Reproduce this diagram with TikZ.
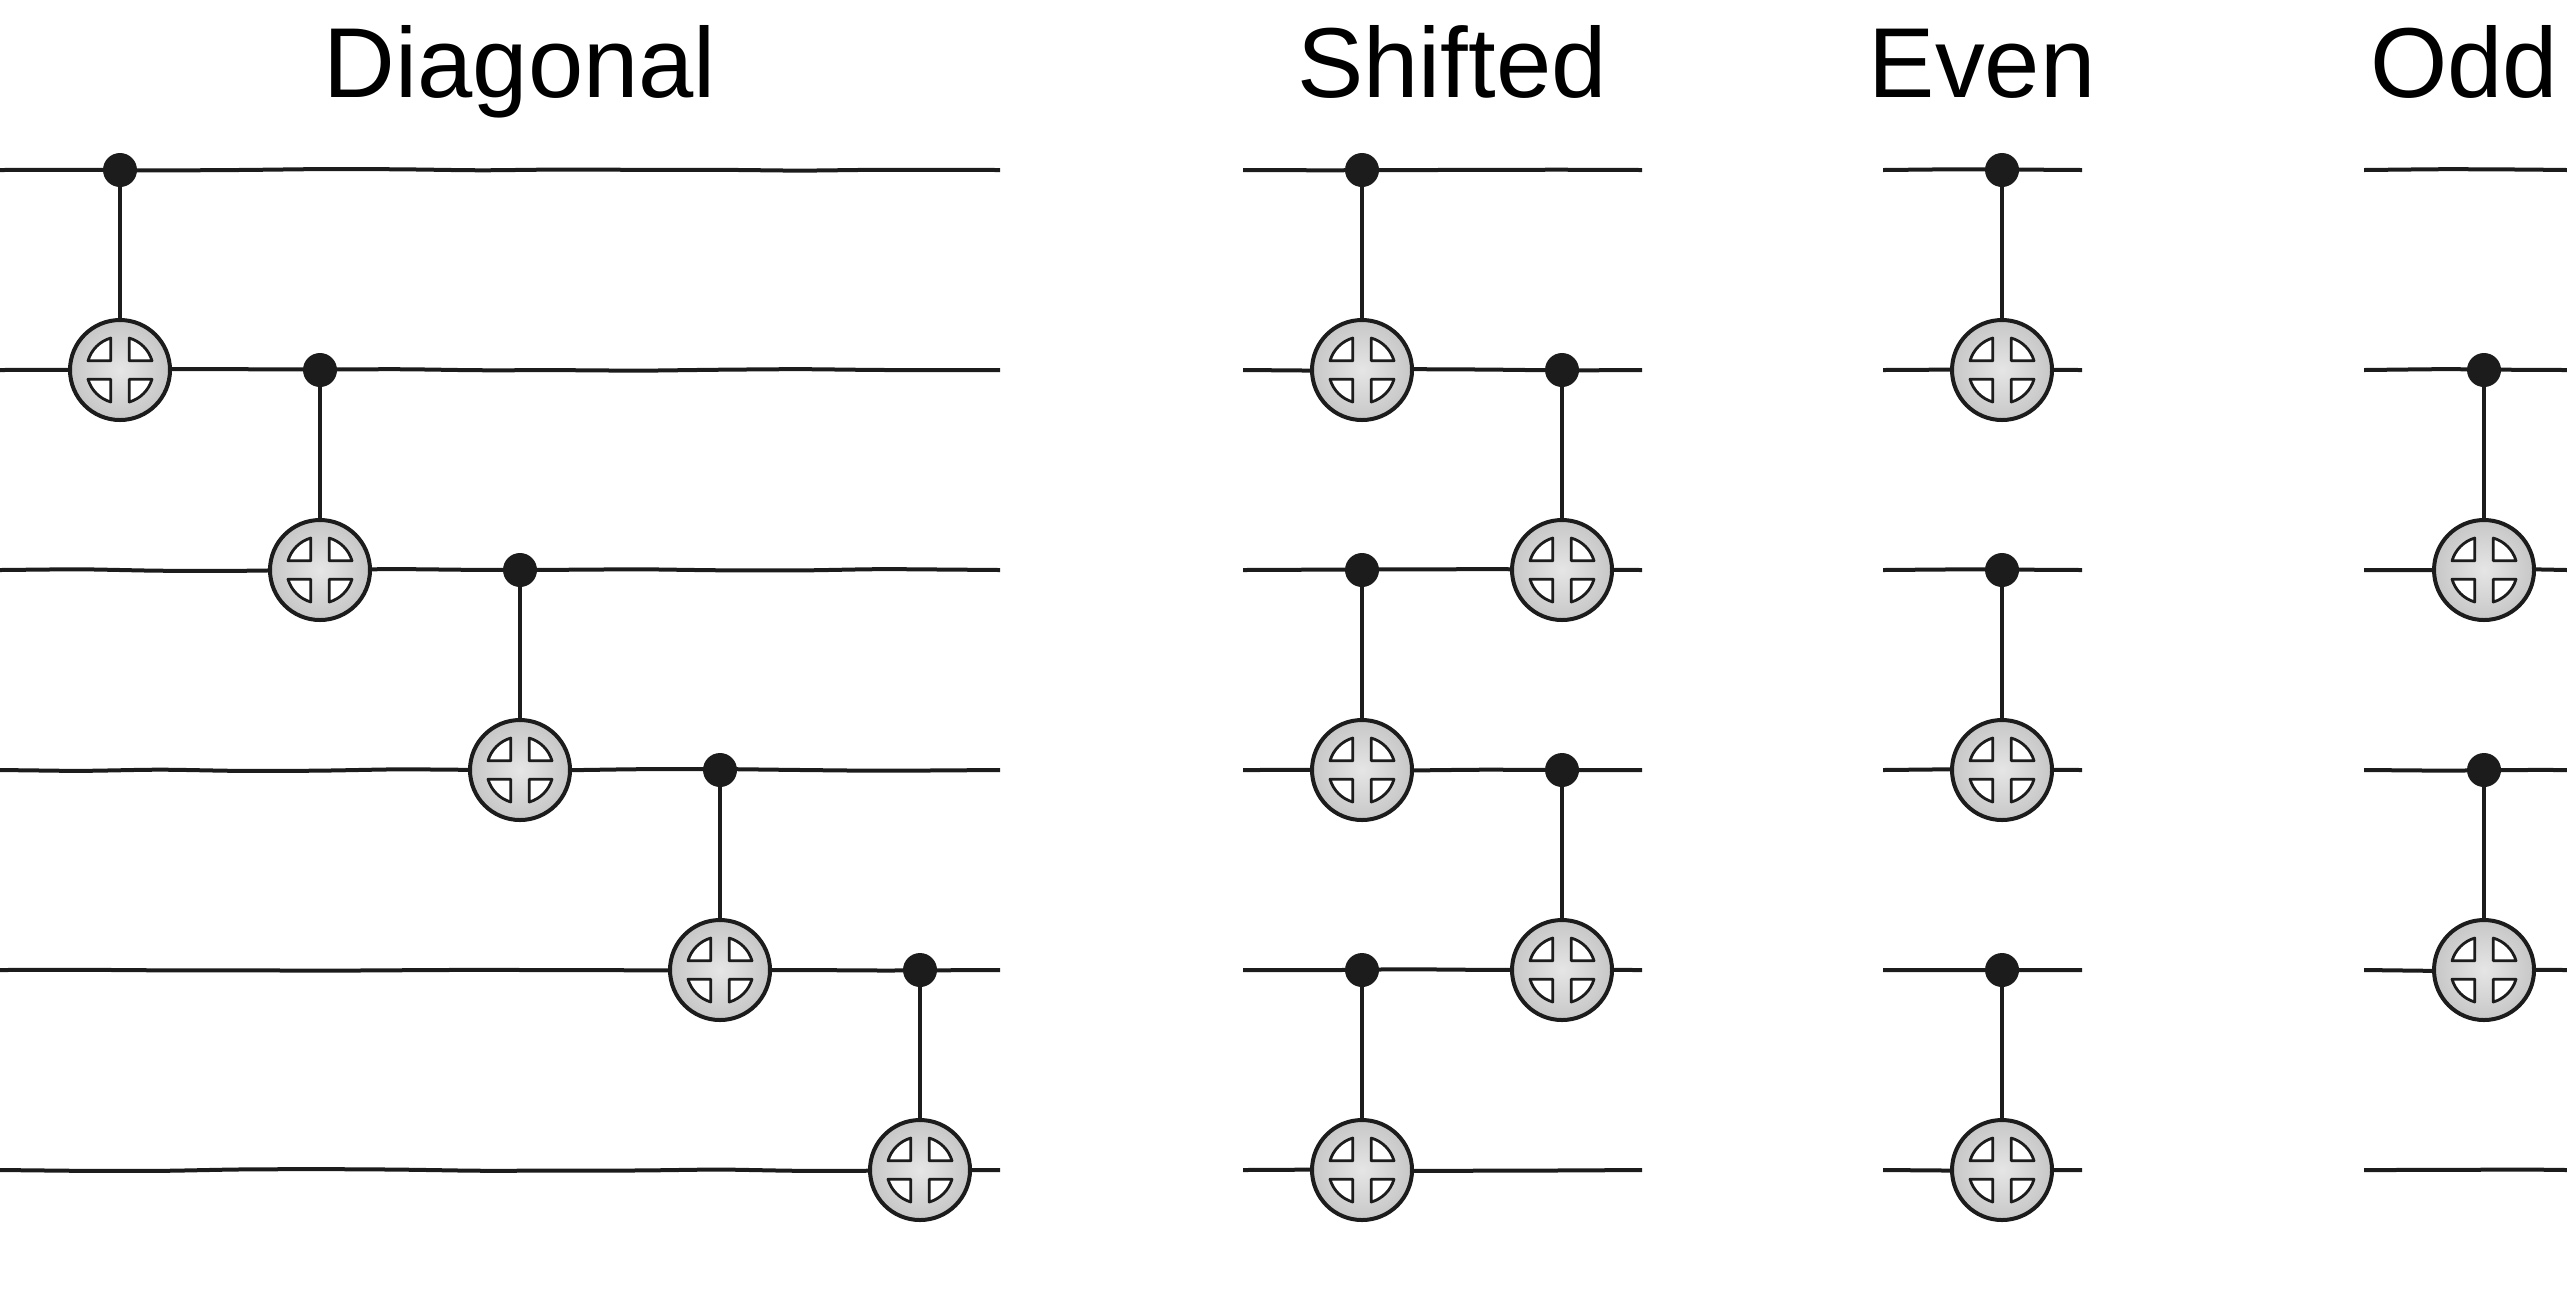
\documentclass[tikz,border=0pt]{standalone}
\usepackage{fontspec}
\setmainfont{Liberation Sans}
\usetikzlibrary{decorations.pathmorphing}
\definecolor{inkblack}{HTML}{1C1C1C}
\newcommand{\fourwedges}{\draw[WedgeStyle, shift={(path picture bounding box.center)}]
    (4.6pt,4.6pt) -- (16pt,4.6pt) arc[start angle=16, end angle=74, radius=16.6pt] -- cycle
    (-4.6pt,4.6pt) -- (-4.6pt,16pt) arc[start angle=106, end angle=164, radius=16.6pt] -- cycle
    (-4.6pt,-4.6pt) -- (-16pt,-4.6pt) arc[start angle=196, end angle=254, radius=16.6pt] -- cycle
    (4.6pt,-4.6pt) -- (4.6pt,-16pt) arc[start angle=286, end angle=344, radius=16.6pt] -- cycle;}

\begin{document}
\begin{tikzpicture}[x=0.5pt, y=-0.5pt]
\tikzset{WireStyle/.style = {inkblack, line width= 2pt, rounded corners= 10pt, decorate, decoration= {random steps, segment length= 40pt, amplitude= 0.5pt}},
    LinkStyle/.style = {inkblack, line width= 2pt},
    WedgeStyle/.style = {inkblack, fill= white, line width= 1.4pt, line join= round},
    ControlStyle/.style = {circle, fill= inkblack, inner sep= 0pt, minimum size= 17pt},
    TargetStyle/.style = {circle, draw= inkblack, line width= 2pt, inner sep= 0pt, minimum size= 50pt, inner color= black!10, outer color= black!22,
        path picture= {\fourwedges}},
    TitleStyle/.style = {anchor= base, inner sep= 0pt, font= \fontsize{49.7}{50}\selectfont}
}
\pgfmathsetseed{7}
\useasboundingbox (0,0) rectangle (2567,1298);

    % Titles
    \node[TitleStyle] (titleD) at (520,97)  {Diagonal};
    \node[TitleStyle] (titleS) at (1452,97) {Shifted};
    \node[TitleStyle] (titleE) at (1982,97) {Even};
    \node[TitleStyle] (titleO) at (2464,97) {Odd};

    % Wires, Diagonal
    \coordinate (d1a) at (0,170);  \coordinate (d1b) at (1000,170);  \draw[WireStyle] (d1a) -- (d1b);
    \coordinate (d2a) at (0,370);  \coordinate (d2b) at (1000,370);  \draw[WireStyle] (d2a) -- (d2b);
    \coordinate (d3a) at (0,570);  \coordinate (d3b) at (1000,570);  \draw[WireStyle] (d3a) -- (d3b);
    \coordinate (d4a) at (0,770);  \coordinate (d4b) at (1000,770);  \draw[WireStyle] (d4a) -- (d4b);
    \coordinate (d5a) at (0,970);  \coordinate (d5b) at (1000,970);  \draw[WireStyle] (d5a) -- (d5b);
    \coordinate (d6a) at (0,1170); \coordinate (d6b) at (1000,1170); \draw[WireStyle] (d6a) -- (d6b);

    % Wires, Shifted
    \coordinate (s1a) at (1243,170);  \coordinate (s1b) at (1642,170);  \draw[WireStyle] (s1a) -- (s1b);
    \coordinate (s2a) at (1243,370);  \coordinate (s2b) at (1642,370);  \draw[WireStyle] (s2a) -- (s2b);
    \coordinate (s3a) at (1243,570);  \coordinate (s3b) at (1642,570);  \draw[WireStyle] (s3a) -- (s3b);
    \coordinate (s4a) at (1243,770);  \coordinate (s4b) at (1642,770);  \draw[WireStyle] (s4a) -- (s4b);
    \coordinate (s5a) at (1243,970);  \coordinate (s5b) at (1642,970);  \draw[WireStyle] (s5a) -- (s5b);
    \coordinate (s6a) at (1243,1170); \coordinate (s6b) at (1642,1170); \draw[WireStyle] (s6a) -- (s6b);

    % Wires, Even
    \coordinate (e1a) at (1883,170);  \coordinate (e1b) at (2082,170);  \draw[WireStyle] (e1a) -- (e1b);
    \coordinate (e2a) at (1883,370);  \coordinate (e2b) at (2082,370);  \draw[WireStyle] (e2a) -- (e2b);
    \coordinate (e3a) at (1883,570);  \coordinate (e3b) at (2082,570);  \draw[WireStyle] (e3a) -- (e3b);
    \coordinate (e4a) at (1883,770);  \coordinate (e4b) at (2082,770);  \draw[WireStyle] (e4a) -- (e4b);
    \coordinate (e5a) at (1883,970);  \coordinate (e5b) at (2082,970);  \draw[WireStyle] (e5a) -- (e5b);
    \coordinate (e6a) at (1883,1170); \coordinate (e6b) at (2082,1170); \draw[WireStyle] (e6a) -- (e6b);

    % Wires, Odd
    \coordinate (o1a) at (2364,170);  \coordinate (o1b) at (2567,170);  \draw[WireStyle] (o1a) -- (o1b);
    \coordinate (o2a) at (2364,370);  \coordinate (o2b) at (2567,370);  \draw[WireStyle] (o2a) -- (o2b);
    \coordinate (o3a) at (2364,570);  \coordinate (o3b) at (2567,570);  \draw[WireStyle] (o3a) -- (o3b);
    \coordinate (o4a) at (2364,770);  \coordinate (o4b) at (2567,770);  \draw[WireStyle] (o4a) -- (o4b);
    \coordinate (o5a) at (2364,970);  \coordinate (o5b) at (2567,970);  \draw[WireStyle] (o5a) -- (o5b);
    \coordinate (o6a) at (2364,1170); \coordinate (o6b) at (2567,1170); \draw[WireStyle] (o6a) -- (o6b);

    % Gates, Diagonal
    \node[ControlStyle] (dc1) at (120,170) {};  \node[TargetStyle] (dt1) at (120,370) {};  \draw[LinkStyle] (dc1) -- (dt1);
    \node[ControlStyle] (dc2) at (320,370) {};  \node[TargetStyle] (dt2) at (320,570) {};  \draw[LinkStyle] (dc2) -- (dt2);
    \node[ControlStyle] (dc3) at (520,570) {};  \node[TargetStyle] (dt3) at (520,770) {};  \draw[LinkStyle] (dc3) -- (dt3);
    \node[ControlStyle] (dc4) at (720,770) {};  \node[TargetStyle] (dt4) at (720,970) {};  \draw[LinkStyle] (dc4) -- (dt4);
    \node[ControlStyle] (dc5) at (920,970) {};  \node[TargetStyle] (dt5) at (920,1170) {}; \draw[LinkStyle] (dc5) -- (dt5);

    % Gates, Shifted
    \node[ControlStyle] (sc1) at (1362,170) {}; \node[TargetStyle] (st1) at (1362,370) {};  \draw[LinkStyle] (sc1) -- (st1);
    \node[ControlStyle] (sc2) at (1362,570) {}; \node[TargetStyle] (st2) at (1362,770) {};  \draw[LinkStyle] (sc2) -- (st2);
    \node[ControlStyle] (sc3) at (1362,970) {}; \node[TargetStyle] (st3) at (1362,1170) {}; \draw[LinkStyle] (sc3) -- (st3);
    \node[ControlStyle] (sc4) at (1562,370) {}; \node[TargetStyle] (st4) at (1562,570) {};  \draw[LinkStyle] (sc4) -- (st4);
    \node[ControlStyle] (sc5) at (1562,770) {}; \node[TargetStyle] (st5) at (1562,970) {};  \draw[LinkStyle] (sc5) -- (st5);

    % Gates, Even
    \node[ControlStyle] (ec1) at (2002,170) {}; \node[TargetStyle] (et1) at (2002,370) {};  \draw[LinkStyle] (ec1) -- (et1);
    \node[ControlStyle] (ec2) at (2002,570) {}; \node[TargetStyle] (et2) at (2002,770) {};  \draw[LinkStyle] (ec2) -- (et2);
    \node[ControlStyle] (ec3) at (2002,970) {}; \node[TargetStyle] (et3) at (2002,1170) {}; \draw[LinkStyle] (ec3) -- (et3);

    % Gates, Odd
    \node[ControlStyle] (oc1) at (2484,370) {}; \node[TargetStyle] (ot1) at (2484,570) {};  \draw[LinkStyle] (oc1) -- (ot1);
    \node[ControlStyle] (oc2) at (2484,770) {}; \node[TargetStyle] (ot2) at (2484,970) {};  \draw[LinkStyle] (oc2) -- (ot2);
\end{tikzpicture}
\end{document}
